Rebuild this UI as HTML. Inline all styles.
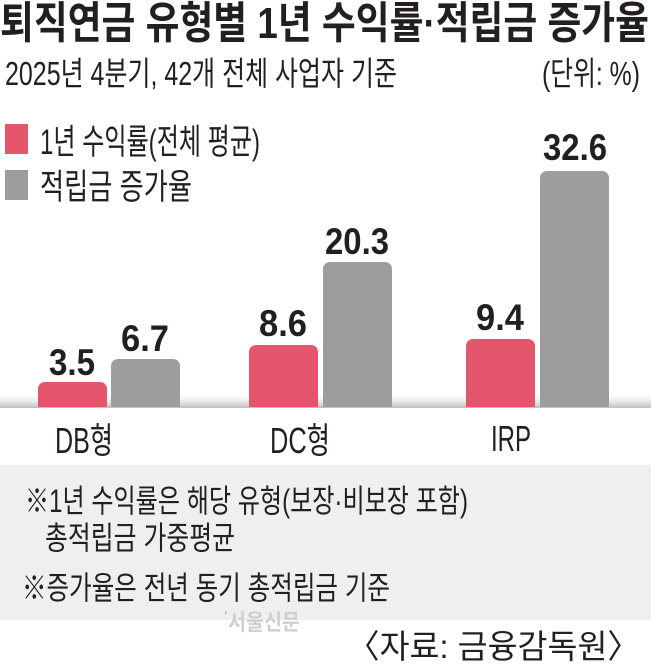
<!DOCTYPE html>
<html><head><meta charset="utf-8"><style>
html,body{margin:0;padding:0;background:#fff;}
svg{display:block;}
text{font-family:"Liberation Sans","Noto Sans CJK KR",sans-serif;fill:#231f20;}
</style></head><body>
<svg width="651" height="664" viewBox="0 0 651 664" xmlns="http://www.w3.org/2000/svg">
<defs>
<linearGradient id="sh" x1="0" y1="0" x2="0" y2="1">
<stop offset="0" stop-color="#fff" stop-opacity="0"/>
<stop offset="1" stop-color="#bdbdbd"/>
</linearGradient>
</defs>
<text x="0" y="38" font-size="44" font-weight="bold" textLength="649" lengthAdjust="spacingAndGlyphs">퇴직연금 유형별 1년 수익률·적립금 증가율</text>
<text x="5" y="85" font-size="33" textLength="392" lengthAdjust="spacingAndGlyphs">2025년 4분기, 42개 전체 사업자 기준</text>
<text x="542" y="85" font-size="33" textLength="98" lengthAdjust="spacingAndGlyphs">(단위: %)</text>
<rect x="5" y="124" width="23" height="30" fill="#e5566d"/>
<rect x="5" y="170" width="23" height="30" fill="#9d9d9d"/>
<text x="40" y="154" font-size="35" textLength="220" lengthAdjust="spacingAndGlyphs">1년 수익률(전체 평균)</text>
<text x="40" y="199" font-size="35" textLength="152" lengthAdjust="spacingAndGlyphs">적립금 증가율</text>
<rect x="0" y="392" width="651" height="16" fill="url(#sh)"/>
<g>
<path d="M38 407V389a7 7 0 0 1 7-7h55a7 7 0 0 1 7 7V407Z" fill="#e5566d"/>
<path d="M111 407V366a7 7 0 0 1 7-7h55a7 7 0 0 1 7 7V407Z" fill="#9d9d9d"/>
<path d="M249 407V352a7 7 0 0 1 7-7h55a7 7 0 0 1 7 7V407Z" fill="#e5566d"/>
<path d="M323 407V269a7 7 0 0 1 7-7h55a7 7 0 0 1 7 7V407Z" fill="#9d9d9d"/>
<path d="M466 407V346a7 7 0 0 1 7-7h55a7 7 0 0 1 7 7V407Z" fill="#e5566d"/>
<path d="M540 407V178a7 7 0 0 1 7-7h55a7 7 0 0 1 7 7V407Z" fill="#9d9d9d"/>
</g>
<g font-weight="bold" font-size="37" text-anchor="middle">
<text x="72" y="375" textLength="46" lengthAdjust="spacingAndGlyphs">3.5</text>
<text x="145" y="351" textLength="48" lengthAdjust="spacingAndGlyphs">6.7</text>
<text x="283" y="336" textLength="48" lengthAdjust="spacingAndGlyphs">8.6</text>
<text x="357" y="254" textLength="64" lengthAdjust="spacingAndGlyphs">20.3</text>
<text x="500" y="330" textLength="48" lengthAdjust="spacingAndGlyphs">9.4</text>
<text x="575" y="160" textLength="64" lengthAdjust="spacingAndGlyphs">32.6</text>
</g>
<g font-size="36" text-anchor="middle">
<text x="84" y="453" textLength="58" lengthAdjust="spacingAndGlyphs">DB형</text>
<text x="300" y="453" textLength="60" lengthAdjust="spacingAndGlyphs">DC형</text>
<text x="511" y="451" textLength="40" lengthAdjust="spacingAndGlyphs">IRP</text>
</g>
<rect x="0" y="465" width="651" height="155" fill="#efefef"/>
<text x="25" y="512" font-size="32" textLength="443" lengthAdjust="spacingAndGlyphs">※1년 수익률은 해당 유형(보장·비보장 포함)</text>
<text x="45" y="549" font-size="32" textLength="190" lengthAdjust="spacingAndGlyphs">총적립금 가중평균</text>
<text x="22" y="599" font-size="32" textLength="368" lengthAdjust="spacingAndGlyphs">※증가율은 전년 동기 총적립금 기준</text>
<text x="224" y="620" font-size="12" font-weight="bold" style="fill:#f0a860">’</text>
<text x="228" y="630" font-size="22" font-weight="bold" style="fill:#cfcfcf" textLength="72" lengthAdjust="spacingAndGlyphs">서울신문</text>
<text x="347" y="658" font-size="33" textLength="293" lengthAdjust="spacingAndGlyphs">〈자료: 금융감독원〉</text>
</svg>
</body></html>
